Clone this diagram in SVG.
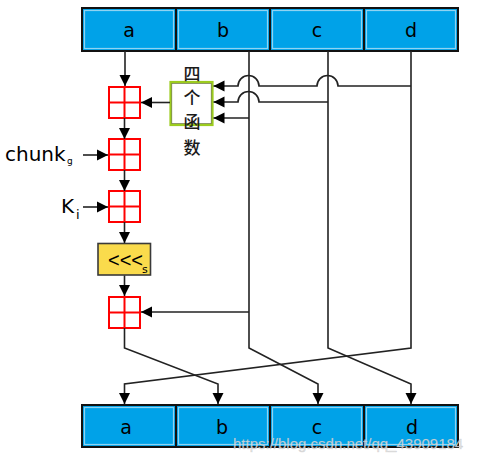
<svg xmlns="http://www.w3.org/2000/svg" width="487" height="465" viewBox="0 0 487 465">
<style>
.reg-o{fill:#00a2e8;stroke:#111;stroke-width:2}
.reg-i{fill:none;stroke:#8fd3f2;stroke-width:1.2}
.lbl{font-family:"DejaVu Sans","Open Sans",sans-serif;font-size:19px;fill:#000;text-anchor:middle}
.grid{fill:#fff;stroke:#ff0000;stroke-width:2}
.gl{stroke:#ff0000;stroke-width:2}
.ln{fill:none;stroke:#222;stroke-width:1.6}
.cjk{font-family:"Noto Sans CJK SC",sans-serif;font-size:17px;font-weight:500;fill:#1a1a1a;text-anchor:middle}
.side{font-family:"DejaVu Sans","Open Sans",sans-serif;font-size:20px;fill:#000}
</style>
<defs>
<marker id="ah" markerUnits="userSpaceOnUse" markerWidth="12" markerHeight="12" viewBox="0 0 12 12" refX="11" refY="6" orient="auto">
<path d="M0,0.5 L11,6 L0,11.5 Z" fill="#000"/>
</marker>
<g id="redgrid">
<rect x="0" y="0" width="31" height="31" class="grid"/>
<line x1="15.5" y1="0" x2="15.5" y2="31" class="gl"/>
<line x1="0" y1="15.5" x2="31" y2="15.5" class="gl"/>
</g>
</defs>
<rect width="487" height="465" fill="#fff"/>

<g id="top-a"><rect x="82" y="8" width="94" height="43" class="reg-o"/><rect x="84.5" y="10.5" width="89" height="38" class="reg-i"/><text x="129" y="37" class="lbl">a</text></g>
<g id="top-b"><rect x="176" y="8" width="94" height="43" class="reg-o"/><rect x="178.5" y="10.5" width="89" height="38" class="reg-i"/><text x="223" y="37" class="lbl">b</text></g>
<g id="top-c"><rect x="270" y="8" width="94" height="43" class="reg-o"/><rect x="272.5" y="10.5" width="89" height="38" class="reg-i"/><text x="317" y="37" class="lbl">c</text></g>
<g id="top-d"><rect x="364" y="8" width="94" height="43" class="reg-o"/><rect x="366.5" y="10.5" width="89" height="38" class="reg-i"/><text x="411" y="37" class="lbl">d</text></g>

<g id="bot-a"><rect x="82" y="405" width="94" height="42" class="reg-o"/><rect x="84.5" y="407.5" width="89" height="37" class="reg-i"/><text x="126" y="434" class="lbl">a</text></g>
<g id="bot-b"><rect x="176" y="405" width="94" height="42" class="reg-o"/><rect x="178.5" y="407.5" width="89" height="37" class="reg-i"/><text x="222" y="434" class="lbl">b</text></g>
<g id="bot-c"><rect x="270" y="405" width="94" height="42" class="reg-o"/><rect x="272.5" y="407.5" width="89" height="37" class="reg-i"/><text x="317" y="434" class="lbl">c</text></g>
<g id="bot-d"><rect x="364" y="405" width="94" height="42" class="reg-o"/><rect x="366.5" y="407.5" width="89" height="37" class="reg-i"/><text x="412" y="434" class="lbl">d</text></g>

<g id="add1"><use href="#redgrid" x="109" y="87"/></g>
<g id="add2"><use href="#redgrid" x="109" y="139"/></g>
<g id="add3"><use href="#redgrid" x="109" y="191"/></g>
<g id="add4"><use href="#redgrid" x="109" y="297"/></g>

<g id="func">
<rect x="170.5" y="82" width="42" height="43" fill="#fff" stroke="#9ccc1e" stroke-width="2.2"/>
<rect x="171.8" y="83.3" width="39.4" height="40.4" fill="none" stroke="#4a5a10" stroke-width="0.6"/>
<text x="192" y="80" class="cjk">四</text>
<text x="192" y="104" class="cjk">个</text>
<text x="192" y="128" class="cjk">函</text>
<text x="192" y="154" class="cjk">数</text>
</g>

<g id="rot">
<rect x="98" y="243.5" width="52.5" height="31.5" fill="#fadb4c" stroke="#3a3a3a" stroke-width="1.6"/>
<text x="108" y="267" font-family="Liberation Sans, Arial, sans-serif" font-size="20" fill="#000">&lt;&lt;&lt;</text>
<text x="142" y="273" font-family="DejaVu Sans, sans-serif" font-size="11" fill="#000">s</text>
</g>

<g id="chunk"><text x="5" y="161" class="side">chunk</text><text x="67" y="164" font-family="DejaVu Sans, sans-serif" font-size="9" fill="#000">g</text></g>
<g id="ki"><text x="61" y="213" class="side">K</text><text x="76" y="219" font-family="DejaVu Sans, sans-serif" font-size="13" fill="#000">i</text></g>

<g id="connectors">
<path d="M125,51 V86" class="ln" marker-end="url(#ah)"/>
<path d="M124.5,118 V139" class="ln" marker-end="url(#ah)"/>
<path d="M124.5,170 V191" class="ln" marker-end="url(#ah)"/>
<path d="M124.5,222 V243" class="ln" marker-end="url(#ah)"/>
<path d="M124.5,275.5 V296" class="ln" marker-end="url(#ah)"/>
<path d="M170,102.5 H141" class="ln" marker-end="url(#ah)"/>
<path d="M83,155 H108" class="ln" marker-end="url(#ah)"/>
<path d="M83,207 H108" class="ln" marker-end="url(#ah)"/>
<path d="M249,312 H141" class="ln" marker-end="url(#ah)"/>
<path d="M411,86 H338 A10.5,10.5 0 0 0 317,86 H259 A10.5,10.5 0 0 0 238,86 H213.5" class="ln" marker-end="url(#ah)"/>
<path d="M328,102 H259 A10.5,10.5 0 0 0 238,102 H213.5" class="ln" marker-end="url(#ah)"/>
<path d="M249,118 H213.5" class="ln" marker-end="url(#ah)"/>
<path d="M124.5,328 V348 L218,384 V404" class="ln" marker-end="url(#ah)"/>
<path d="M249,51 V348 L318,384 V404" class="ln" marker-end="url(#ah)"/>
<path d="M328,51 V348 L411,384 V404" class="ln" marker-end="url(#ah)"/>
<path d="M411,51 V348 L124.5,384 V404" class="ln" marker-end="url(#ah)"/>
</g>

<text x="233" y="449" font-family="Liberation Sans, Arial, sans-serif" font-size="15" fill="#e6e6e6" fill-opacity="0.85" stroke="#9a9a9a" stroke-opacity="0.35" stroke-width="0.6">https://blog.csdn.net/qq_43909184</text>
</svg>
